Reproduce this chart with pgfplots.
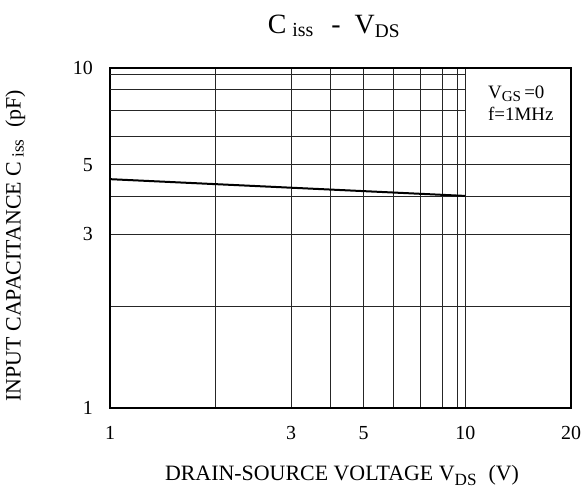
\documentclass[border=0pt]{standalone}
\usepackage{fontspec}
\setmainfont{Liberation Serif}
\usepackage{pgfplots}
\pgfplotsset{compat=1.18}

% datasheet grid: piecewise mapping of values 1..20 to decade fractions
\newcommand{\dstrafo}[1]{%
  \begingroup
  \pgfkeys{/pgf/fpu=true,/pgf/fpu/output format=fixed}%
  \pgfmathparse{(#1<2) ? ((#1-1)*0.297) : ((#1<3) ? (0.297+(#1-2)*0.213) : ((#1<4) ? (0.510+(#1-3)*0.111) : ((#1<5) ? (0.621+(#1-4)*0.093) : ((#1<6) ? (0.714+(#1-5)*0.084) : ((#1<7) ? (0.798+(#1-6)*0.077) : ((#1<8) ? (0.875+(#1-7)*0.061) : ((#1<9) ? (0.936+(#1-8)*0.043) : ((#1<10) ? (0.979+(#1-9)*0.021) : (1+(#1-10)*0.02975)))))))))}%
  \pgfmathsmuggle\pgfmathresult
  \endgroup}

\begin{document}
\begin{tikzpicture}
\path[use as bounding box] (-55bp,-41.65bp) rectangle (236.5bp,203.85bp);
\begin{axis}[
  scale only axis,
  width=230.5bp, height=170bp,
  x coord trafo/.code={\dstrafo{#1}},
  y coord trafo/.code={\dstrafo{#1}},
  xmin=1, xmax=20, ymin=1, ymax=10,
  xtick={1,2,3,4,5,6,7,8,9,10},
  xticklabels={1,,3,,5,,,,,10},
  extra x ticks={20},
  extra x tick labels={20},
  extra x tick style={grid=none},
  ytick={1,2,3,4,5,6,10},
  yticklabels={1,,3,,5,,10},
  xmajorgrids, ymajorgrids,
  major grid style={black!85, line width=0.5bp},
  major tick length=0pt,
  axis line style={black, line width=1.1bp},
  /pgf/number format/assume math mode=true,
  xticklabel style={anchor=base, yshift=-15.8bp, inner sep=0pt, font=\fontsize{10}{12}\selectfont},
  yticklabel style={anchor=east, xshift=-8.35bp, inner sep=0pt, font=\fontsize{10}{12}\selectfont},
]
\addplot[black!85, line width=0.5bp, forget plot] coordinates {(1,7) (10,7)};
\addplot[black!85, line width=0.5bp, forget plot] coordinates {(1,8) (10,8)};
\addplot[black!85, line width=0.5bp, forget plot] coordinates {(1,9) (10,9)};
\addplot[black, line width=1bp] coordinates {(1,4.55) (10,4.02)};
\end{axis}
\node[anchor=base east, inner sep=0pt, font=\fontsize{14}{16}\selectfont] at (145bp,187bp)
  {C\hspace{3bp}\raisebox{-1.6bp}{\fontsize{10}{11}\selectfont iss}\hspace{9bp}-\hspace{7bp}V\raisebox{-1.8bp}{\fontsize{9.7}{11}\selectfont DS}};
\node[anchor=base, inner sep=0pt, font=\fontsize{11}{13}\selectfont] at (116bp,-36.5bp)
  {DRAIN-SOURCE VOLTAGE V\raisebox{-2.5bp}{\fontsize{8.6}{10}\selectfont DS}\hspace{6bp}(V)};
\node[rotate=90, anchor=base, inner sep=0pt, font=\fontsize{11}{13}\selectfont] at (-44.65bp,81bp)
  {INPUT CAPACITANCE C\hspace{2bp}\raisebox{-1.5bp}{\fontsize{8.6}{10}\selectfont iss}\hspace{6bp}(pF)};
\node[anchor=base west, inner sep=0pt, font=\fontsize{9.5}{11}\selectfont] at (188.85bp,154.7bp)
  {V\raisebox{-1.5bp}{\fontsize{7.6}{9}\selectfont GS}\,=0};
\node[anchor=base west, inner sep=0pt, font=\fontsize{9.5}{11}\selectfont] at (188.85bp,143.5bp)
  {f=1MHz};
\end{tikzpicture}
\end{document}
